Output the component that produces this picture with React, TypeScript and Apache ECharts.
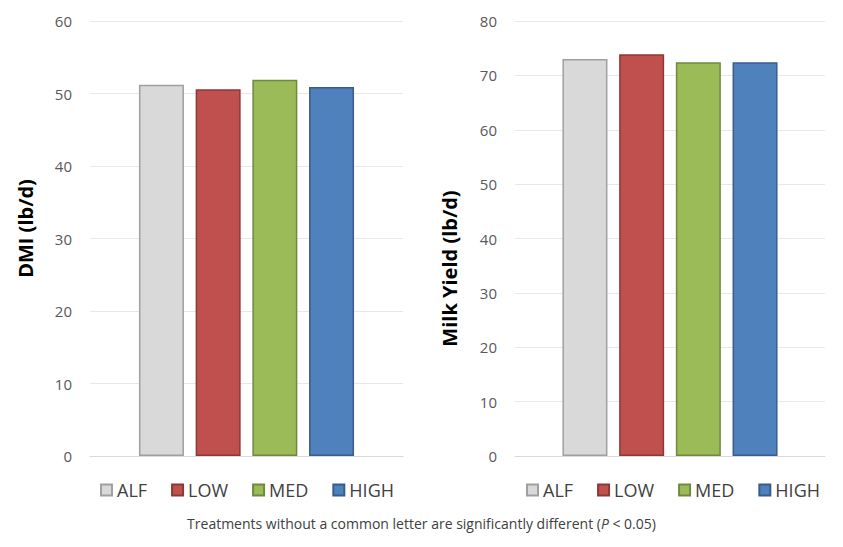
import React, { useEffect, useRef } from "react";
import * as echarts from "echarts";

const treatments = ["ALF", "LOW", "MED", "HIGH"];
const dmiValues = [51.2, 50.6, 51.9, 50.9];
const milkValues = [73.0, 73.9, 72.4, 72.4];
const fills = ["#d9d9d9", "#c0504d", "#9bbb59", "#4f81bd"];
const borders = ["#a0a0a0", "#8c3836", "#71893f", "#385d8a"];
const dmiTicks = { min: 0, max: 60, interval: 10 };
const milkTicks = { min: 0, max: 80, interval: 10 };

export default function App() {
  const ref = useRef<HTMLDivElement>(null);
  useEffect(() => {
    document.body.style.margin = "0";
    const chart = echarts.init(ref.current!, undefined, { renderer: "svg" });
    const font = "'Open Sans', 'Liberation Sans', sans-serif";
    const mkSeries = (vals: number[], idx: number) =>
      treatments.map((t, i) => ({
        name: t,
        type: "bar",
        xAxisIndex: idx,
        yAxisIndex: idx,
        data: [vals[i]],
        barWidth: 45,
        barGap: "26%",
        itemStyle: { color: fills[i], borderColor: borders[i], borderWidth: 1.5 },
      }));
    const yAxisCommon = (name: string, t: any, idx: number, gap: number, pad: number[]) => ({
      type: "value",
      gridIndex: idx,
      min: t.min,
      max: t.max,
      interval: t.interval,
      name,
      nameLocation: "middle",
      nameGap: gap,
      nameTextStyle: { fontFamily: font, fontSize: 20, fontWeight: "bold", color: "#000", padding: pad },
      axisLabel: { fontFamily: font, fontSize: 15, color: "#595959", margin: 18 },
      axisLine: { show: false },
      axisTick: { show: false },
      splitLine: { lineStyle: { color: "#e8e8e8", width: 1 } },
    });
    const xAxisCommon = (idx: number) => ({
      type: "category",
      gridIndex: idx,
      data: [""],
      axisLabel: { show: false },
      axisTick: { show: false },
      axisLine: { lineStyle: { color: "#d9d9d9" } },
    });
    const legendCommon = {
      data: treatments,
      icon: "rect",
      itemWidth: 11,
      itemHeight: 11,
      itemGap: 24,
      top: 476,
      textStyle: { fontFamily: font, fontSize: 18, color: "#404040" },
    };
    chart.setOption({
      animation: false,
      grid: [
        { left: 90, top: 21, width: 313, height: 435 },
        { left: 515, top: 21, width: 310, height: 435 },
      ],
      xAxis: [xAxisCommon(0), xAxisCommon(1)],
      yAxis: [
        yAxisCommon("DMI (lb/d)", dmiTicks, 0, 55, [0, 0, 0, 20]),
        yAxisCommon("Milk Yield (lb/d)", milkTicks, 1, 56, [0, 60, 0, 0]),
      ],
      legend: [
        { ...legendCommon, left: 95 },
        { ...legendCommon, left: 521 },
      ],
      title: {
        left: "center",
        top: 511,
        text: "Treatments without a common letter are significantly different ({i|P} < 0.05)",
        textStyle: {
          fontFamily: font,
          fontSize: 14,
          fontWeight: "normal",
          color: "#404040",
          rich: { i: { fontStyle: "italic", fontFamily: font, fontSize: 14, color: "#404040" } },
        },
      },
      series: [...mkSeries(dmiValues, 0), ...mkSeries(milkValues, 1)],
    });
    return () => chart.dispose();
  }, []);
  return <div ref={ref} style={{ width: 843, height: 547 }} />;
}
